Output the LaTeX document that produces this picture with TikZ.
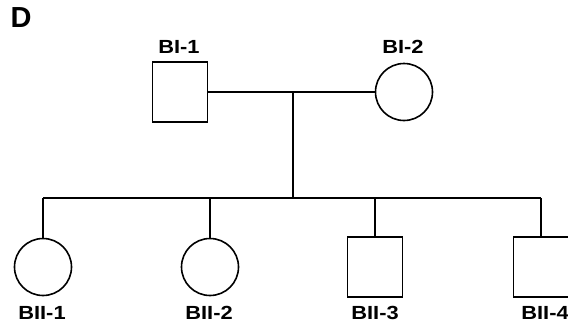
\documentclass[tikz,border=0pt]{standalone}
\usepackage{fontspec}
\setmainfont{Liberation Sans}
\newfontfamily\lblfont[FakeStretch=1.15]{Liberation Sans}
\begin{document}
\begin{tikzpicture}[x=1pt,y=-1pt,
  line width=1.6pt,
  male/.style={draw,rectangle,minimum width=55pt,minimum height=60pt,inner sep=0pt},
  female/.style={draw,circle,minimum size=57pt,inner sep=0pt},
  lbl/.style={font=\lblfont\bfseries\fontsize{19}{19}\selectfont,inner sep=0pt,anchor=base}]
\useasboundingbox (0,0) rectangle (568,322);
\clip (0,0) rectangle (568,322);
\node[font=\bfseries\fontsize{29}{29}\selectfont,inner sep=0pt] (D) at (21,18) {D};
\node[male] (bi1) at (180,92) {};
\node[female] (bi2) at (404,92) {};
\node[lbl] (lbi1) at (179,53) {BI-1};
\node[lbl] (lbi2) at (403,53) {BI-2};
\coordinate (m) at (293,92);
\coordinate (s) at (293,198);
\draw (bi1.east) -- (bi2.west);
\draw (m) -- (s);
\node[female] (c1) at (43,267) {};
\node[female] (c2) at (210,267) {};
\node[male] (c3) at (375,267) {};
\node[male] (c4) at (541,267) {};
\coordinate (t1) at (43,198);
\coordinate (t4) at (541,198);
\draw (t1) -- (t4);
\draw (t1) -- (c1.north);
\draw (c2.north |- s) -- (c2.north);
\draw (c3.north |- s) -- (c3.north);
\draw (t4) -- (c4.north);
\node[lbl] (l1) at (42,319) {BII-1};
\node[lbl] (l2) at (209,319) {BII-2};
\node[lbl] (l3) at (375,319) {BII-3};
\node[lbl] (l4) at (545,319) {BII-4};
\end{tikzpicture}
\end{document}
